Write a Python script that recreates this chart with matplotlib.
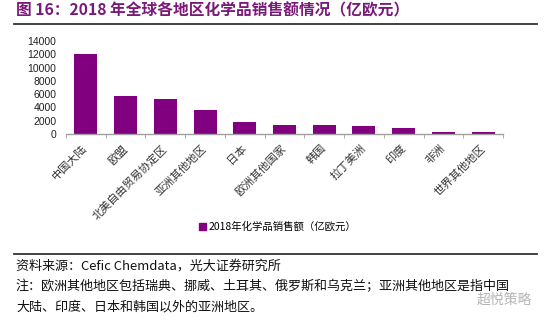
import matplotlib
matplotlib.use("Agg")
import matplotlib.pyplot as plt
from matplotlib.lines import Line2D
import matplotlib.patches as mpatches

plt.rcParams['font.family'] = ['Noto Sans CJK SC', 'DejaVu Sans']

regions = ["中国大陆", "欧盟", "北美自由贸易协定区", "亚洲其他地区", "日本",
           "欧洲其他国家", "韩国", "拉丁美洲", "印度", "非洲", "世界其他地区"]
sales = [11980, 5650, 5300, 3660, 1860, 1330, 1300, 1180, 940, 280, 280]
yticks = [0, 2000, 4000, 6000, 8000, 10000, 12000, 14000]

title = "图 16：2018 年全球各地区化学品销售额情况（亿欧元）"
legend_label = "2018年化学品销售额（亿欧元）"
source = "资料来源：Cefic Chemdata，光大证券研究所"
note1 = "注：欧洲其他地区包括瑞典、挪威、土耳其、俄罗斯和乌克兰；亚洲其他地区是指中国"
note2 = "大陆、印度、日本和韩国以外的亚洲地区。"

W, H = 550, 322
fig = plt.figure(figsize=(5.5, 3.22), dpi=100)
ax = fig.add_axes([66 / W, 1 - 134 / H, (503 - 66) / W, (134 - 41) / H])

x = list(range(len(regions)))
ax.bar(x, sales, width=0.58, color="#800080", zorder=2)

ax.set_ylim(0, 14000)
ax.set_yticks(yticks)
ax.set_yticklabels([str(v) for v in yticks], family="Liberation Sans", fontsize=7.5, color="#222222")
ax.set_xlim(-0.5, 10.09)
ax.set_xticks(x)
ax.set_xticklabels(regions, rotation=45, ha="right", va="center", rotation_mode="anchor",
                   fontsize=8, color="#333333")
ax.set_xticks([i - 0.5 for i in range(len(regions) + 1)], minor=True)
ax.tick_params(axis="x", which="major", length=0, pad=9)
ax.tick_params(axis="x", which="minor", length=3, color="#a0a0a0", direction="out")
ax.tick_params(axis="y", length=0, pad=7)
for side in ["top", "right", "left"]:
    ax.spines[side].set_visible(False)
ax.spines["bottom"].set_color("#a0a0a0")
ax.spines["bottom"].set_linewidth(1.0)

# legend
patch = mpatches.Patch(color="#800080", label=legend_label)
fig.legend(handles=[patch], loc="center", bbox_to_anchor=(278 / W, 1 - 227 / H), frameon=False,
           fontsize=7.5, handlelength=0.6, handleheight=0.6, handletextpad=0.3)

# title and rules
fig.text(16 / W, 1 - 10 / H, title, fontsize=11.3, fontweight="bold", color="#7a1a78",
         ha="left", va="center")
fig.add_artist(Line2D([14 / W, 537 / W], [1 - 23.5 / H] * 2, color="#333333", lw=1.3))
fig.add_artist(Line2D([14 / W, 537 / W], [1 - 253.5 / H] * 2, color="#333333", lw=1.3))

# footnotes
fig.text(16 / W, 1 - 266 / H, source, fontsize=9.4, color="#111111", ha="left", va="center")
fig.text(16 / W, 1 - 286 / H, note1, fontsize=9.4, color="#111111", ha="left", va="center")
fig.text(16 / W, 1 - 307 / H, note2, fontsize=9.4, color="#111111", ha="left", va="center")
fig.text(532 / W, 1 - 300 / H, "超悦策略", fontsize=10, color="#b5b5b5", ha="right", va="center")

fig.savefig("out.png", dpi=100)
